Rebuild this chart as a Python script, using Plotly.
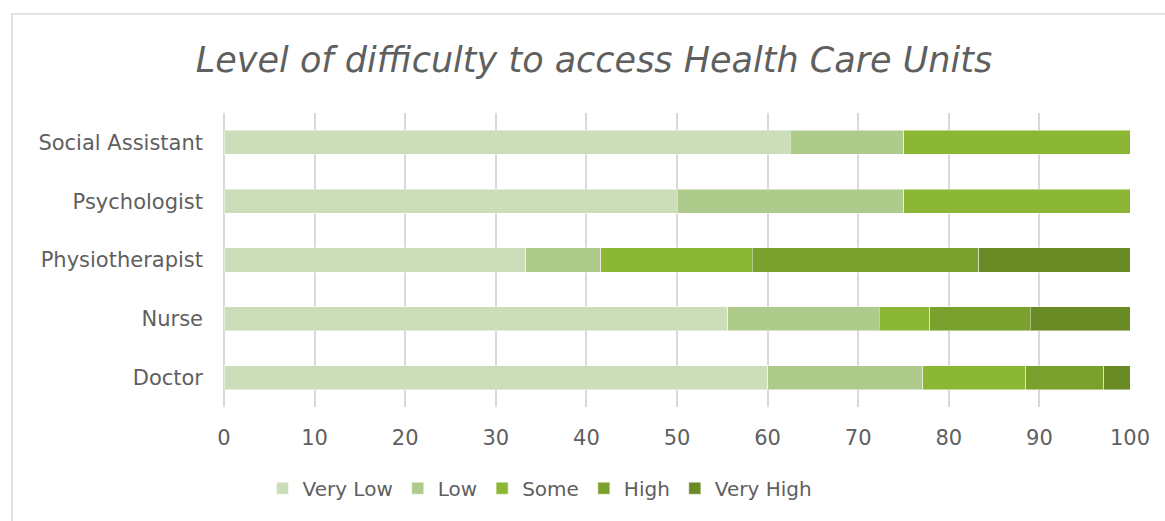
import plotly.graph_objects as go

# Professionals (bottom to top in the chart)
professions = ["Doctor", "Nurse", "Physiotherapist", "Psychologist", "Social Assistant"]

# Share of answers (%) per difficulty level
very_low = [60.0, 55.6, 33.3, 50.0, 62.5]
low = [17.1, 16.7, 8.3, 25.0, 12.5]
some = [11.4, 5.6, 16.7, 25.0, 25.0]
high = [8.6, 11.1, 25.0, 0.0, 0.0]
very_high = [2.9, 11.1, 16.7, 0.0, 0.0]

levels = ["Very Low", "Low", "Some", "High", "Very High"]
series = [very_low, low, some, high, very_high]
colors = ["#CCDDBA", "#AFCB8B", "#8BB734", "#7AA12D", "#6A8A25"]

x_ticks = list(range(0, 101, 10))

FONT = "DejaVu Sans"
GREY = "#5F5F5F"

fig = go.Figure()
for name, vals, col in zip(levels, series, colors):
    fig.add_trace(go.Bar(
        y=professions,
        x=vals,
        name=name,
        orientation="h",
        marker=dict(color=col, line=dict(color="rgba(255,255,255,0.45)", width=1)),
        hoverinfo="x+y+name",
    ))

fig.update_layout(
    barmode="stack",
    bargap=0.59,
    width=1165,
    height=521,
    margin=dict(l=224, r=35, t=113, b=114),
    paper_bgcolor="white",
    plot_bgcolor="white",
    font=dict(family=FONT, color=GREY, size=21),
    title=dict(
        text="<i>Level of difficulty to access Health Care Units</i>",
        x=594 / 1165, xanchor="center",
        y=1 - 60 / 521, yanchor="middle",
        font=dict(family=FONT, size=35, color=GREY),
    ),
    xaxis=dict(
        range=[0, 100],
        tickvals=x_ticks,
        showgrid=True,
        gridcolor="#D9D9D9",
        gridwidth=1.5,
        zeroline=True,
        zerolinecolor="#D9D9D9",
        zerolinewidth=1.5,
        showline=False,
        ticks="",
        ticklabelstandoff=16,
        tickfont=dict(size=21, color=GREY),
        fixedrange=True,
    ),
    yaxis=dict(
        showgrid=False,
        showline=False,
        ticks="",
        ticklabelstandoff=20,
        tickfont=dict(size=21, color=GREY),
        fixedrange=True,
    ),
    legend=dict(
        orientation="h",
        x=(540 - 224) / 906, xanchor="center",
        y=-0.21, yanchor="top",
        font=dict(size=20, color=GREY),
        itemwidth=30,
        traceorder="normal",
    ),
    showlegend=True,
)

# Outline of the chart area
fig.add_shape(
    type="rect", xref="paper", yref="paper",
    x0=(12 - 224) / 906, x1=1.2,
    y0=-0.6, y1=1 + (113 - 14) / 294,
    line=dict(color="#D9D9D9", width=1.5),
    fillcolor="rgba(0,0,0,0)",
    layer="below",
)

fig.write_html("out.html")
